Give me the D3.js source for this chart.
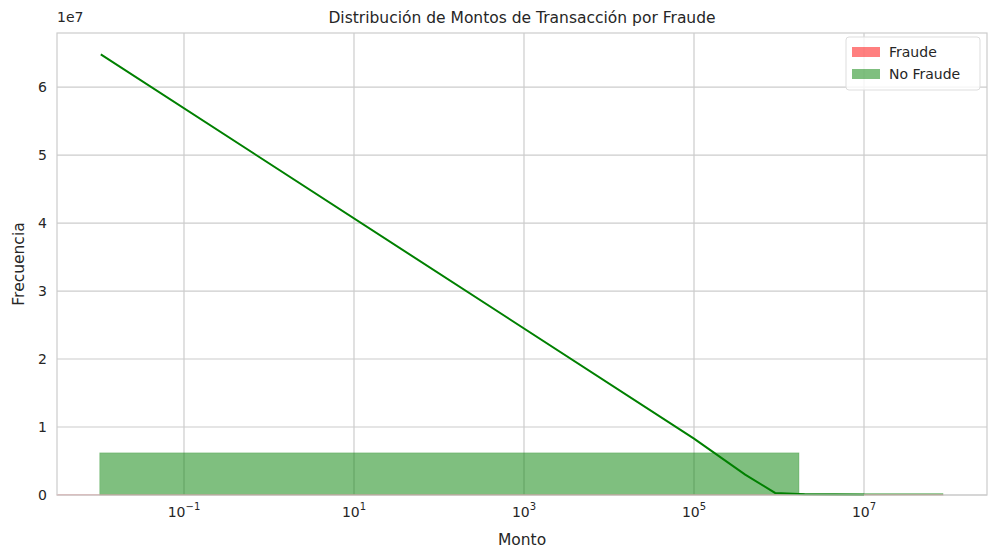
<!DOCTYPE html>
<html><head><meta charset="utf-8">
<script src="https://cdn.jsdelivr.net/npm/d3@7"></script>
<style>body{margin:0;background:#fff;font-family:"DejaVu Sans",sans-serif;}</style>
</head><body>
<script>
// histogram bins (log edges) and counts
const noFraudeEdges = [0.0102, 1.72e6, 8.5e7]
const noFraudeCounts = [6.2e6, 2.2e5]
const fraudeEdges = [0.0032, 8.5e7]
const fraudeCounts = [3.0e4]
// kde line for No Fraude
const kdeX = [0.0105, 1e5, 4e5, 9e5, 2e6, 1e7]
const kdeY = [6.48e7, 0.83e7, 3.0e6, 3.0e5, 1.0e5, 2.0e4]
const xTicks = [1e-1, 1e1, 1e3, 1e5, 1e7]
const yTicks = [0, 1e7, 2e7, 3e7, 4e7, 5e7, 6e7]

const W = 996, H = 560
const M = {top:33, left:57, right:9, bottom:65}
const iw = W - M.left - M.right, ih = H - M.top - M.bottom

const svg = d3.select("body").append("svg").attr("width", W).attr("height", H)
const g = svg.append("g").attr("transform", `translate(${M.left},${M.top})`)

const x = d3.scaleLog().domain([Math.pow(10,-2.494), Math.pow(10,8.447)]).range([0, iw])
const y = d3.scaleLinear().domain([0, 6.795e7]).range([ih, 0])

// grid
g.selectAll(".gx").data(xTicks).enter().append("line")
    .attr("x1", d => x(d)).attr("x2", d => x(d)).attr("y1", 0).attr("y2", ih)
    .attr("stroke", "#cccccc").attr("stroke-width", 1.2)
g.selectAll(".gy").data(yTicks).enter().append("line")
    .attr("x1", 0).attr("x2", iw).attr("y1", d => y(d)).attr("y2", d => y(d))
    .attr("stroke", "#cccccc").attr("stroke-width", 1.2)

// bars
function bars(edges, counts, color){
    g.selectAll(null).data(counts).enter().append("rect")
        .attr("x", (d,i) => x(edges[i]))
        .attr("width", (d,i) => x(edges[i+1]) - x(edges[i]))
        .attr("y", d => y(d))
        .attr("height", d => ih - y(d))
        .attr("fill", color).attr("fill-opacity", 0.5)
        .attr("stroke", color).attr("stroke-opacity", 0.25).attr("stroke-width", 0.8)
}
bars(noFraudeEdges, noFraudeCounts, "#008000")
bars(fraudeEdges, fraudeCounts, "#ff0000")

// kde
const kde = kdeX.map((v,i) => [v, kdeY[i]])
g.append("path").datum(kde)
    .attr("d", d3.line().x(d => x(d[0])).y(d => y(d[1])))
    .attr("fill", "none").attr("stroke", "#008000").attr("stroke-width", 2)

// spines
g.append("rect").attr("width", iw).attr("height", ih)
    .attr("fill", "none").attr("stroke", "#cccccc").attr("stroke-width", 1.2)

// axes labels
g.selectAll(".xt").data(xTicks).enter().append("text")
    .attr("x", d => x(d)).attr("y", ih + 22)
    .attr("text-anchor", "middle").attr("font-size", 14).attr("fill", "#262626")
    .each(function(d){
        const e = Math.round(Math.log10(d))
        const t = d3.select(this)
        t.append("tspan").text("10")
        t.append("tspan").attr("font-size", 10).attr("dy", -7).text(String(e).replace("-", "\u2212"))
    })
g.selectAll(".yt").data(yTicks).enter().append("text")
    .attr("x", -10).attr("y", d => y(d) + 5)
    .attr("text-anchor", "end").attr("font-size", 14).attr("fill", "#262626")
    .text(d => d / 1e7)
g.append("text").attr("x", 0).attr("y", -11).attr("font-size", 14).attr("fill", "#262626").text("1e7")

svg.append("text").attr("x", M.left + iw/2).attr("y", 545).attr("text-anchor", "middle")
    .attr("font-size", 15.5).attr("fill", "#262626").text("Monto")
svg.append("text").attr("transform", `translate(24,${M.top + ih/2}) rotate(-90)`)
    .attr("text-anchor", "middle").attr("font-size", 15.5).attr("fill", "#262626").text("Frecuencia")
svg.append("text").attr("x", M.left + iw/2).attr("y", 23).attr("text-anchor", "middle")
    .attr("font-size", 15.5).attr("fill", "#262626").text("Distribución de Montos de Transacción por Fraude")

// legend
const lg = svg.append("g").attr("transform", "translate(846,37)")
lg.append("rect").attr("width", 134).attr("height", 53).attr("rx", 3)
    .attr("fill", "#fff").attr("fill-opacity", 0.8).attr("stroke", "#dddddd")
const items = [["Fraude", "#ff0000"], ["No Fraude", "#008000"]]
items.forEach((it, i) => {
    lg.append("rect").attr("x", 6).attr("y", 10 + i*22).attr("width", 28).attr("height", 10)
        .attr("fill", it[1]).attr("fill-opacity", 0.5)
    lg.append("text").attr("x", 43).attr("y", 20 + i*22).attr("font-size", 14)
        .attr("fill", "#262626").text(it[0])
})
</script>
</body></html>
